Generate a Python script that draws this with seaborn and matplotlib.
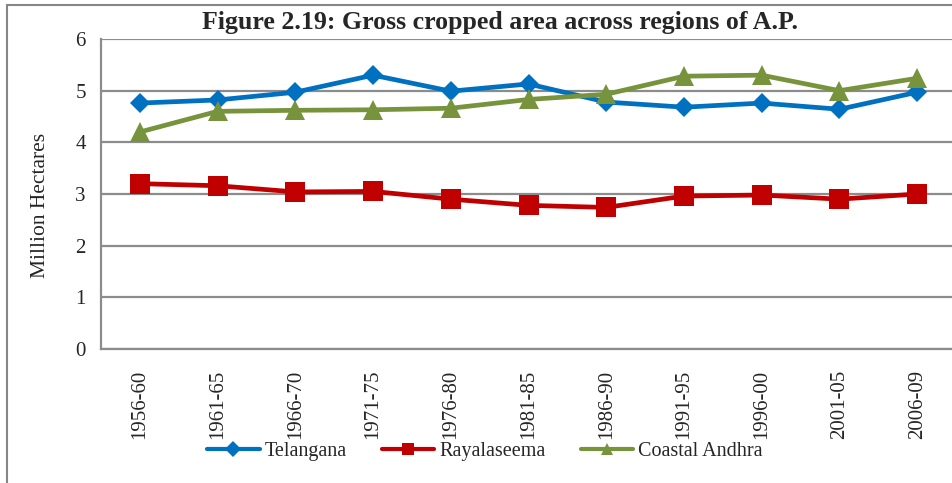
import numpy as np
import pandas as pd
import matplotlib
matplotlib.use("Agg")
import matplotlib.pyplot as plt
from matplotlib.patches import Rectangle
import seaborn as sns

# --- Data (million hectares) ---
periods = ["1956-60", "1961-65", "1966-70", "1971-75", "1976-80", "1981-85",
           "1986-90", "1991-95", "1996-00", "2001-05", "2006-09"]
telangana = [4.76, 4.82, 4.97, 5.30, 4.99, 5.13, 4.78, 4.68, 4.76, 4.64, 4.97]
rayalaseema = [3.20, 3.16, 3.04, 3.05, 2.90, 2.78, 2.74, 2.96, 2.98, 2.90, 3.00]
coastal_andhra = [4.20, 4.60, 4.62, 4.63, 4.66, 4.83, 4.93, 5.28, 5.30, 5.00, 5.24]

regions = ["Telangana", "Rayalaseema", "Coastal Andhra"]
series = {"Telangana": telangana, "Rayalaseema": rayalaseema,
          "Coastal Andhra": coastal_andhra}
colors = {"Telangana": "#0070C0", "Rayalaseema": "#C00000", "Coastal Andhra": "#77933C"}
markers = {"Telangana": "D", "Rayalaseema": "s", "Coastal Andhra": "^"}
msizes = {"Telangana": 10.5, "Rayalaseema": 14, "Coastal Andhra": 14}

sns.set_style("white")
plt.rcParams["font.family"] = ["Liberation Serif", "DejaVu Serif"]

fig = plt.figure(figsize=(9.52, 4.83), dpi=100)
ax = fig.add_axes([101 / 952, 1 - 349 / 483, 855 / 952, 310 / 483])

# outer chart border
fig.patches.append(Rectangle((7 / 952, -0.01), 1.0, 1 - 5 / 483 + 0.01,
                             transform=fig.transFigure, fill=False,
                             edgecolor="#868686", linewidth=1.5))

for r in regions:
    d = pd.DataFrame({"pos": range(len(periods)), "value": series[r]})
    sns.lineplot(data=d, x="pos", y="value", color=colors[r], marker=markers[r],
                 linewidth=3.4, markersize=msizes[r], markeredgewidth=0, ax=ax)

ax.set_xlim(-0.5, len(periods) - 0.5)
ax.set_ylim(0, 6)
ax.set_yticks(range(0, 7))
ax.yaxis.grid(True, color="#8c8c8c", linewidth=1.6)
ax.set_axisbelow(True)

ax.set_xticks(range(len(periods)))
ax.set_xticklabels(periods, rotation=90, fontsize=15, va="top")
ax.tick_params(axis="x", which="major", length=0, pad=15)
ax.set_xticks(np.arange(-0.5, len(periods)), minor=True)
ax.tick_params(axis="x", which="minor", length=6, width=1.2, color="#8c8c8c")
ax.tick_params(axis="y", length=6, width=1.2, color="#8c8c8c", labelsize=15, pad=5)

for side in ["top", "right"]:
    ax.spines[side].set_visible(False)
for side in ["left", "bottom"]:
    ax.spines[side].set_color("#8c8c8c")
    ax.spines[side].set_linewidth(1.6)

ax.set_xlabel("")
ax.set_ylabel("Million Hectares", fontsize=15.5)
ax.yaxis.set_label_coords(-0.060, 0.4645)

fig.text(500 / 952, 1 - 23 / 483, "Figure 2.19: Gross cropped area across regions of A.P.",
         ha="center", va="center", fontsize=18.6, fontweight="bold")

handles = [plt.Line2D([], [], color=colors[r], marker=markers[r], linewidth=3,
                      markersize=8, markeredgewidth=0) for r in regions]
fig.legend(handles, regions, loc="center", bbox_to_anchor=(485 / 952, 1 - 451 / 483),
           ncol=3, frameon=False, fontsize=14.5, handlelength=2.6,
           handletextpad=0.25, columnspacing=1.75)

fig.savefig("out.png", dpi=100)
